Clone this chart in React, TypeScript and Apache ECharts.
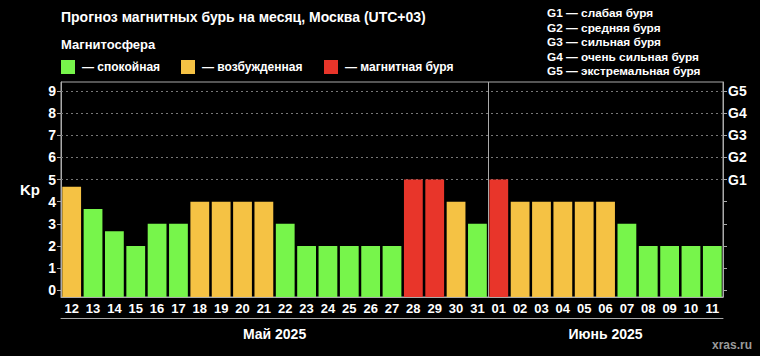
import React, { useEffect, useRef } from "react";
import * as echarts from "echarts";

const dates = ["12","13","14","15","16","17","18","19","20","21","22","23","24","25","26","27","28","29","30","31","01","02","03","04","05","06","07","08","09","10","11"];
const kpValues = [4.67,3.67,2.67,2,3,3,4,4,4,4,3,2,2,2,2,2,5,5,4,3,5,4,4,4,4,4,3,2,2,2,2];
const kpTicks = [0,1,2,3,4,5,6,7,8,9];
const gLevels = [5,6,7,8,9];
const gLabels = ["G1","G2","G3","G4","G5"];
const gLegend = ["G1 — слабая буря","G2 — средняя буря","G3 — сильная буря","G4 — очень сильная буря","G5 — экстремальная буря"];
const months = ["Май 2025", "Июнь 2025"];
const monthDays = [20, 11];
const legendItems = ["— спокойная", "— возбужденная", "— магнитная буря"];

const GREEN = "#77F54B";
const YELLOW = "#F5C244";
const RED = "#E8352A";
const GREY = "#aaaaaa";
const FONT = "'Liberation Sans', Arial, sans-serif";
const NARROW = "'Liberation Sans Narrow', 'Arial Narrow', 'Liberation Sans', sans-serif";

function colorFor(v: number) {
  if (v >= 5) return RED;
  if (v >= 4) return YELLOW;
  return GREEN;
}

export default function App() {
  const ref = useRef<HTMLDivElement>(null);
  useEffect(() => {
    document.body.style.margin = "0";
    document.body.style.background = "#000";
    const chart = echarts.init(ref.current!, null, { renderer: "svg" });
    const gridLeft = 61, gridRight = 37, gridTop = 82, gridBottom = 59;
    const plotW = 760 - gridLeft - gridRight;
    const band = plotW / dates.length;
    const monthCenters: number[] = [];
    let acc = 0;
    monthDays.forEach((n) => { monthCenters.push(gridLeft + (acc + n / 2) * band); acc += n; });

    const legendColors = [GREEN, YELLOW, RED];
    const legendX = [61, 181, 324];
    const graphics: any[] = [
      { type: "text", left: 61, top: 10, style: { text: "Прогноз магнитных бурь на месяц, Москва (UTC+03)", fill: "#fff", font: `bold 14px ${FONT}` } },
      { type: "text", left: 61, top: 38, style: { text: "Магнитосфера", fill: "#fff", font: `bold 13px ${FONT}` } },
    ];
    legendItems.forEach((t, i) => {
      graphics.push({ type: "rect", shape: { x: legendX[i], y: 60, width: 14, height: 14 }, style: { fill: legendColors[i] } });
      graphics.push({ type: "text", x: legendX[i] + 21, y: 67, style: { text: t, fill: "#fff", font: `bold 12px ${FONT}`, verticalAlign: "middle" } });
    });
    gLegend.forEach((t, i) => {
      graphics.push({ type: "text", x: 547, y: 13 + i * 14.5, style: { text: t, fill: "#fff", font: `bold 11.8px ${FONT}`, verticalAlign: "middle" } });
    });
    months.forEach((m, i) => {
      graphics.push({ type: "text", x: monthCenters[i], y: 334, style: { text: m, fill: "#fff", font: `bold 14px ${NARROW}`, align: "center", verticalAlign: "middle" } });
    });
    graphics.push({ type: "text", x: 752, y: 345, style: { text: "xras.ru", fill: "#9a9a9a", font: `bold 12px ${NARROW}`, align: "right", verticalAlign: "middle" } });

    chart.setOption({
      animation: false,
      backgroundColor: "#000",
      grid: { left: gridLeft, right: gridRight, top: gridTop, bottom: gridBottom, show: true, borderColor: GREY, borderWidth: 1 },
      xAxis: [
        {
          type: "category", data: dates, position: "bottom",
          axisLine: { onZero: false, lineStyle: { color: GREY } },
          axisTick: { length: 21, interval: 0, lineStyle: { color: GREY } },
          axisLabel: { color: "#fff", fontWeight: "bold", fontSize: 13, fontFamily: NARROW, margin: 5, interval: 0 },
        },
        {
          type: "category", data: dates, position: "bottom", offset: 21,
          axisLine: { onZero: false, lineStyle: { color: GREY } }, axisTick: { show: false }, axisLabel: { show: false },
        },
        {
          type: "value", min: 0, max: dates.length, interval: monthDays[0], position: "top",
          axisLine: { show: false }, axisTick: { show: false }, axisLabel: { show: false },
          splitLine: { show: true, lineStyle: { color: GREY, width: 1 } },
        },
      ],
      yAxis: [
        {
          type: "value", min: -0.3, max: 9.4, startValue: -0.3, position: "left",
          name: "Kp", nameLocation: "middle", nameRotate: 0, nameGap: 21,
          nameTextStyle: { color: "#fff", fontWeight: "bold", fontSize: 15, fontFamily: FONT },
          axisLine: { show: true, onZero: false, lineStyle: { color: GREY } },
          axisTick: { show: true, length: 4, customValues: kpTicks, lineStyle: { color: GREY } },
          axisLabel: { color: "#fff", fontWeight: "bold", fontSize: 14, fontFamily: FONT, margin: 5, customValues: kpTicks },
          splitLine: { show: false },
        },
        {
          type: "value", min: -0.3, max: 9.4, position: "right",
          axisLine: { show: true, onZero: false, lineStyle: { color: GREY } },
          axisTick: { show: true, length: 4, customValues: kpTicks, lineStyle: { color: GREY } },
          axisLabel: {
            color: "#fff", fontWeight: "bold", fontSize: 14, fontFamily: FONT, margin: 5, customValues: gLevels,
            formatter: (v: number) => gLabels[gLevels.indexOf(Math.round(v))] ?? "",
          },
          splitLine: { show: false },
        },
      ],
      series: [
        {
          type: "bar", xAxisIndex: 0, yAxisIndex: 0, barCategoryGap: "12%",
          data: kpValues.map((v) => ({ value: v, itemStyle: { color: colorFor(v) } })),
          markLine: {
            silent: true, symbol: "none", label: { show: false },
            lineStyle: { color: "#777", type: [2, 3], width: 1 },
            data: gLevels.map((g) => ({ yAxis: g })),
            z: 1,
          },
          z: 2,
        },
      ],
      graphic: graphics,
    });
    return () => chart.dispose();
  }, []);
  return <div ref={ref} style={{ width: 760, height: 356, background: "#000" }} />;
}
